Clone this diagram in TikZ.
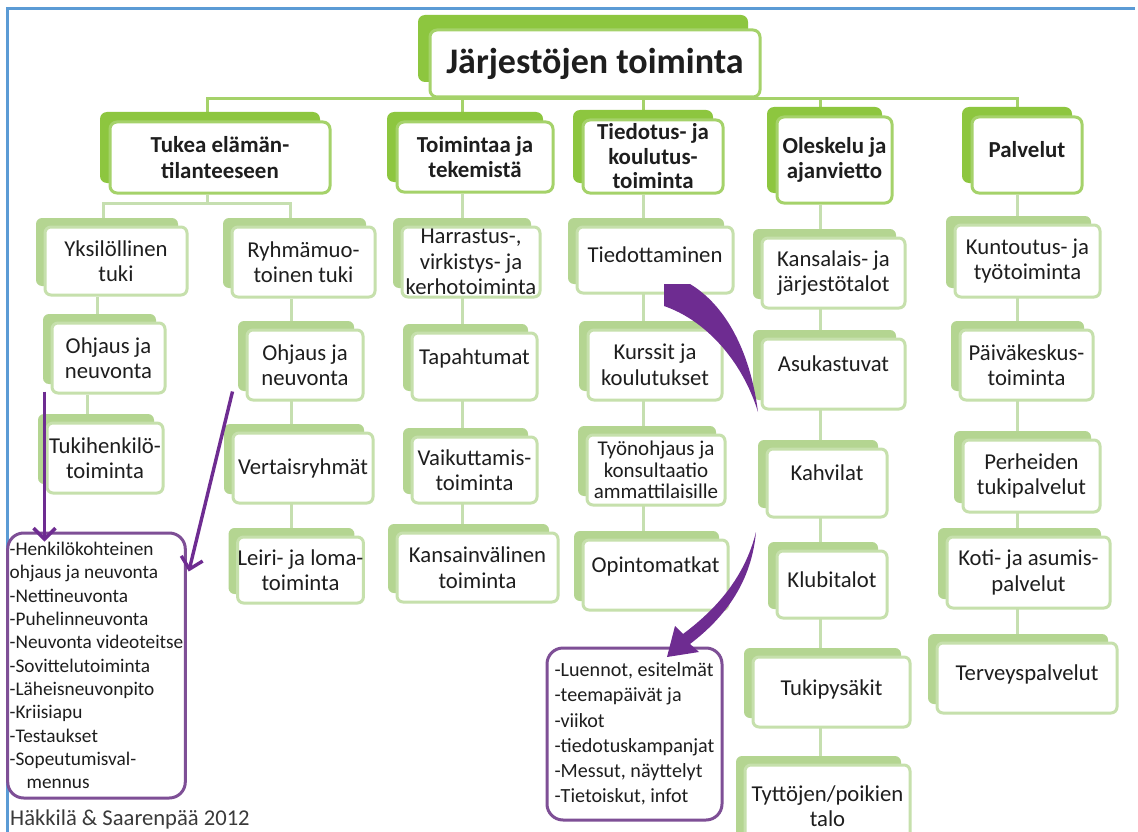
\documentclass[tikz,border=0pt]{standalone}
\usepackage{fontspec}
\setmainfont{Carlito}
\usetikzlibrary{shadows,arrows.meta,backgrounds}
\definecolor{catgreen}{HTML}{8DC63F}
\definecolor{catedge}{HTML}{A5D26A}
\definecolor{leafback}{HTML}{B4D591}
\definecolor{leafedge}{HTML}{C6E0AC}
\definecolor{twiggreen}{HTML}{C6DFB0}
\definecolor{arrowpurple}{HTML}{6E2C91}
\definecolor{boxpurple}{HTML}{7E4F96}
\definecolor{frameblue}{HTML}{5B9BD5}
\definecolor{ink}{HTML}{1E1E1E}
\definecolor{footgray}{HTML}{3A3A3A}

\begin{document}
\begin{tikzpicture}[x=1pt, y=-1pt,
  head/.style={draw=catedge, line width=3pt, fill=white, rounded corners=7pt, text=ink,
    inner sep=0pt, font=\bfseries\fontsize{36}{40}\selectfont,
    general shadow={fill=catgreen, shadow xshift=-12pt, shadow yshift=15pt}},
  cat/.style={draw=catedge, line width=3pt, fill=white, rounded corners=7pt, text=ink,
    align=center, inner sep=0pt, font=\bfseries\fontsize{22.9}{25.5}\selectfont,
    general shadow={fill=catgreen, shadow xshift=-10pt, shadow yshift=10pt}},
  leaf/.style={draw=leafedge, line width=3pt, fill=white, rounded corners=6pt, text=ink,
    align=center, inner sep=0pt, font=\fontsize{22.7}{25.5}\selectfont,
    general shadow={fill=leafback, shadow xshift=-9pt, shadow yshift=9pt}},
  uptext/.style={text depth=#1}, uptext/.default=20pt,
  trunk/.style={draw=catedge, line width=3pt},
  twig/.style={draw=twiggreen, line width=3pt},
  note/.style={draw=boxpurple, line width=3pt, rounded corners=16pt, align=left, text=ink,
    inner xsep=2pt, inner ysep=0pt},
  pointer/.style={draw=arrowpurple, line width=3.4pt, -{Straight Barb[length=11pt,width=22pt]}},
  frameline/.style={draw=frameblue, line width=3pt}]

  \useasboundingbox (0,0) rectangle (1138,832);
  \draw[frameline] (7,832) -- (7,9) -- (1135,9);

  \node[head, minimum width=330pt, minimum height=67pt] (ttl) at (595,63.5) {Järjestöjen toiminta};

  \node[cat, minimum width=220pt, minimum height=71pt] (tuk) at (220,157.5) {Tukea elämän-\\tilanteeseen};
  \node[cat, minimum width=156pt, minimum height=70pt] (toi) at (475,157) {Toimintaa ja\\tekemistä};
  \node[cat, minimum width=140pt, minimum height=73pt, font=\bfseries\fontsize{22.9}{24.5}\selectfont] (tie) at (653,156.5) {Tiedotus- ja\\koulutus-\\toiminta};
  \node[cat, minimum width=115pt, minimum height=86pt] (ole) at (834.5,160) {Oleskelu ja\\ajanvietto};
  \node[cat, minimum width=110pt, minimum height=76pt, uptext=12pt] (pal) at (1027,155) {Palvelut};

  % tukea elämäntilanteeseen
  \node[leaf, minimum width=142pt, minimum height=68pt] (yks) at (116,261) {Yksilöllinen\\tuki};
  \node[leaf, minimum width=113pt, minimum height=70pt] (ohja) at (108.5,358) {Ohjaus ja\\neuvonta};
  \node[leaf, minimum width=116pt, minimum height=70pt] (hen) at (105,458) {Tukihenkilö-\\toiminta};
  \node[leaf, minimum width=143pt, minimum height=70pt] (ryh) at (303.5,262) {Ryhmämuo-\\toinen tuki};
  \node[leaf, minimum width=116pt, minimum height=70pt] (ohjb) at (305,365) {Ohjaus ja\\neuvonta};
  \node[leaf, minimum width=140pt, minimum height=70pt] (ver) at (303,468) {Vertaisryhmät};
  \node[leaf, minimum width=125pt, minimum height=66pt] (lei) at (300.5,570) {Leiri- ja loma-\\toiminta};

  % toimintaa ja tekemistä
  \node[leaf, minimum width=138pt, minimum height=70pt] (har) at (471,262) {Harrastus-,\\virkistys- ja\\kerhotoiminta};
  \node[leaf, minimum width=125pt, minimum height=67pt, uptext] (tap) at (474.5,366.5) {Tapahtumat};
  \node[leaf, minimum width=125pt, minimum height=66pt] (vai) at (474.5,470) {Vaikuttamis-\\toiminta};
  \node[leaf, minimum width=161pt, minimum height=69pt] (kan) at (477.5,567.5) {Kansainvälinen\\toiminta};

  % tiedotus- ja koulutustoiminta
  \node[leaf, minimum width=156pt, minimum height=66pt, uptext=10pt] (ted) at (655,260) {Tiedottaminen};
  \node[leaf, minimum width=134pt, minimum height=70pt] (kur) at (655,365) {Kurssit ja\\koulutukset};
  \node[leaf, minimum width=138pt, minimum height=70pt, font=\fontsize{21}{21.5}\selectfont] (tyo) at (656,470) {Työnohjaus ja\\konsultaatio\\ammattilaisille};
  \node[leaf, minimum width=145pt, minimum height=70pt, uptext] (opi) at (655.5,575) {Opintomatkat};

  % oleskelu ja ajanvietto
  \node[leaf, minimum width=143pt, minimum height=70pt] (ksl) at (833.5,273) {Kansalais- ja\\järjestötalot};
  \node[leaf, minimum width=143pt, minimum height=70pt, uptext] (asu) at (833.5,374) {Asukastuvat};
  \node[leaf, minimum width=120pt, minimum height=68pt, uptext] (kah) at (827,483) {Kahvilat};
  \node[leaf, minimum width=110pt, minimum height=67pt, uptext=10pt] (klu) at (832,584.5) {Klubitalot};
  \node[leaf, minimum width=157pt, minimum height=70pt, uptext=8pt] (tpk) at (831.5,692) {Tukipysäkit};
  \node[leaf, minimum width=165pt, minimum height=82pt] (tyt) at (827.5,806) {Tyttöjen/poikien\\talo};

  % palvelut
  \node[leaf, minimum width=145pt, minimum height=72pt] (kun) at (1027.5,261) {Kuntoutus- ja\\työtoiminta};
  \node[leaf, minimum width=133pt, minimum height=70pt] (pai) at (1026.5,365) {Päiväkeskus-\\toiminta};
  \node[leaf, minimum width=137pt, minimum height=72pt] (per) at (1031.5,476) {Perheiden\\tukipalvelut};
  \node[leaf, minimum width=163pt, minimum height=71pt] (kot) at (1028.5,572.5) {Koti- ja asumis-\\palvelut};
  \node[leaf, minimum width=180pt, minimum height=70pt, uptext=10pt] (ter) at (1027,678) {Terveyspalvelut};

  \begin{scope}[on background layer]
    \fill[white] (0,0) rectangle (1138,832);
    \draw[trunk] ([xshift=-13pt]tuk.north) |- (ttl.south) -| ([xshift=-10pt]pal.north);
    \foreach \n/\s in {toi/-13pt, tie/-10pt, ole/-14pt}
      \draw[trunk] ([xshift=\s]\n.north) -- ([xshift=\s]\n.north |- ttl.south);
    \draw[twig] ([xshift=-13pt]tuk.south) -- ++(0,9) coordinate (fork);
    \draw[twig] ([xshift=-13pt]yks.north) |- (fork) -| ([xshift=-13pt]ryh.north);
    \draw[twig] ([xshift=-19pt]yks.south) -- ([xshift=-19pt]yks.south |- ohja.north);
    \draw[twig] ([xshift=-21pt]ohja.south) -- ([xshift=-21pt]ohja.south |- hen.north);
    \draw[twig] ([xshift=-12pt]ryh.south) -- ([xshift=-12pt]ryh.south |- lei.north);
    \draw[twig] ([xshift=-13pt]toi.south) -- ([xshift=-13pt]toi.south |- kan.north);
    \draw[twig] ([xshift=-10pt]tie.south) -- ([xshift=-10pt]tie.south |- opi.north);
    \draw[twig] ([xshift=-14pt]ole.south) -- ([xshift=-14pt]ole.south |- tyt.north);
    \draw[twig] ([xshift=-10pt]pal.south) -- ([xshift=-10pt]pal.south |- ter.north);
  \end{scope}

  \node[note, minimum width=175pt, minimum height=265pt, font=\fontsize{19.3}{23.3}\selectfont] (lft) at (96.5,665.5)
    {-Henkilökohteinen\\ohjaus ja neuvonta\\-Nettineuvonta\\-Puhelinneuvonta\\-Neuvonta videoteitse\\-Sovittelutoiminta\\-Läheisneuvonpito\\-Kriisiapu\\-Testaukset\\-Sopeutumisval-\\\hspace*{17pt}mennus};
  \node[note, minimum width=175pt, minimum height=172pt, inner xsep=6pt, font=\fontsize{20.1}{25.3}\selectfont] (rgt) at (634.5,734)
    {-Luennot, esitelmät\\-teemapäivät ja\\-viikot\\-tiedotuskampanjat\\-Messut, näyttelyt\\-Tietoiskut, infot};

  \draw[pointer] ([shift={(-6,-3)}]ohja.south west) -- ++(0,150);
  \draw[pointer] ([shift={(-13,-10)}]ohjb.south west) -- ([shift={(2,40)}]lft.north east);

  % curved arrow from Tiedottaminen
  \fill[arrowpurple] (664,284) -- (690,284) .. controls (725,305) and (750,350) .. (758,412)
    .. controls (742,360) and (705,320) .. (664,306) -- cycle;
  \fill[arrowpurple] (756,532) .. controls (752,575) and (732,612) .. (690,644) -- (699,652) -- (667,657)
    -- (675,626) -- (683,634) .. controls (722,605) and (746,572) .. (756,532) -- cycle;

  \node[anchor=base west, inner sep=0pt, text=footgray, font=\fontsize{22.6}{26}\selectfont] (src) at (10,825) {Häkkilä \& Saarenpää 2012};
\end{tikzpicture}
\end{document}
